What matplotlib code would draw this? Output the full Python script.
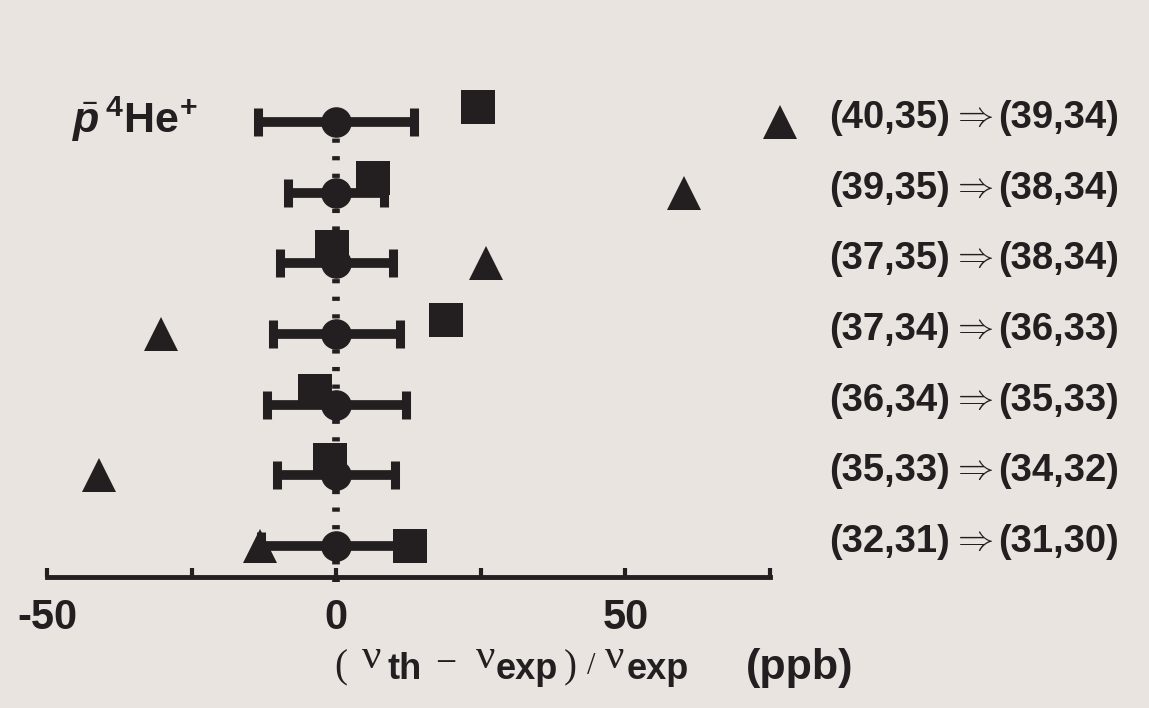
import numpy as np
import matplotlib.pyplot as plt

plt.rcParams['mathtext.fontset'] = 'custom'
plt.rcParams['mathtext.rm'] = 'Liberation Serif'
plt.rcParams['mathtext.bf'] = 'Liberation Sans:bold'
plt.rcParams['mathtext.it'] = 'Liberation Sans:italic:bold'

INK = '#231f20'
BG = '#e9e4df'
W, H = 1149, 708

# transitions, top row first
initial_states = ['(40,35)', '(39,35)', '(37,35)', '(37,34)', '(36,34)', '(35,33)', '(32,31)']
final_states = ['(39,34)', '(38,34)', '(38,34)', '(36,33)', '(35,33)', '(34,32)', '(31,30)']
rows = [7, 6, 5, 4, 3, 2, 1]

# experiment (circles) with error bars, ppb
exp_val = [0, 0, 0, 0, 0, 0, 0]
exp_err = [13.5, 8.3, 9.8, 11.0, 12.0, 10.2, 13.0]

# theory values (squares and triangles), ppb
sq_x = [24.5, 6.4, -0.8, 19.0, -3.7, -1.1, 12.7]
sq_y = [7.21, 6.21, 5.23, 4.20, 3.19, 2.21, 1.0]
tri_x = [76.7, 60.2, 25.9, -30.3, np.nan, -41.0, -13.2]

fig = plt.figure(figsize=(W / 100, H / 100), dpi=100, facecolor=BG)
ax = fig.add_axes([47 / W, 131 / H, 723 / W, 497.4 / H])
ax.set_facecolor('none')

ax.set_xlim(-50, 75)
ax.set_ylim(0.561, 7.6)

# dotted reference line at zero
ax.plot([0, 0], [0.49, 7], color=INK, lw=5.5, linestyle=(0, (0.55, 1.75)),
        dash_capstyle='butt', clip_on=False, zorder=1)

ax.errorbar(exp_val, rows, xerr=exp_err, fmt='o', color=INK, ms=21,
            elinewidth=7, capsize=10, capthick=6.5, clip_on=False, zorder=3)
ax.plot(sq_x, sq_y, 's', color=INK, ms=24, mew=0, clip_on=False, zorder=2)
ax.plot(tri_x, rows, '^', color=INK, ms=24, mew=0, clip_on=False, zorder=2)

for s in ['top', 'left', 'right']:
    ax.spines[s].set_visible(False)
ax.spines['bottom'].set_linewidth(3.5)
ax.spines['bottom'].set_color(INK)
ax.set_yticks([])
ax.set_xticks([-50, -25, 0, 25, 50, 75])
ax.set_xticklabels(['-50', '', '0', '', '50', ''])
ax.tick_params(axis='x', direction='in', length=6.5, width=3, color=INK,
               pad=15, labelsize=30, labelcolor=INK)
for t in ax.get_xticklabels():
    t.set_fontweight('bold')
    t.set_family('Liberation Sans')


def put(x, y, s, ha='left', **kw):
    # x, y in pixels from the top-left corner
    fig.text(x / W, 1 - y / H, s, ha=ha, va='baseline', color=INK, **kw)


# transition labels on the right, aligned with the rows
to_px = ax.transData
for y, a, b in zip(rows, initial_states, final_states):
    base = H - to_px.transform((0, y))[1] + 6
    put(829, base, a, fontsize=27.5, fontweight='bold', family='Liberation Sans')
    put(972, base - 2, r'$\Rightarrow$', ha='center', fontsize=26)
    put(1119, base, b, ha='right', fontsize=27.5, fontweight='bold',
        family='Liberation Sans')

# species label
put(72, 133, r'$\bar{\mathit{p}}\,{}^{\mathbf{4}}\mathbf{He}^{\mathbf{+}}$', fontsize=31)

# axis label pieces
serif = dict(family='Liberation Serif')
sans = dict(family='Liberation Sans', fontweight='bold')
put(334, 677, '(', fontsize=28, **serif)
put(362, 668, 'ν', fontsize=31, **serif)
put(387, 679, 'th', fontsize=26, **sans)
put(435, 674, '−', fontsize=27, **serif)
put(476, 668, 'ν', fontsize=31, **serif)
put(496, 679, 'exp', fontsize=26, **sans)
put(564, 677, ')', fontsize=28, **serif)
put(587, 674, '/', fontsize=22, **serif)
put(605, 668, 'ν', fontsize=31, **serif)
put(627, 679, 'exp', fontsize=26, **sans)
put(746, 679, '(ppb)', fontsize=31, **sans)

fig.savefig('out.png', dpi=100, facecolor=BG)
